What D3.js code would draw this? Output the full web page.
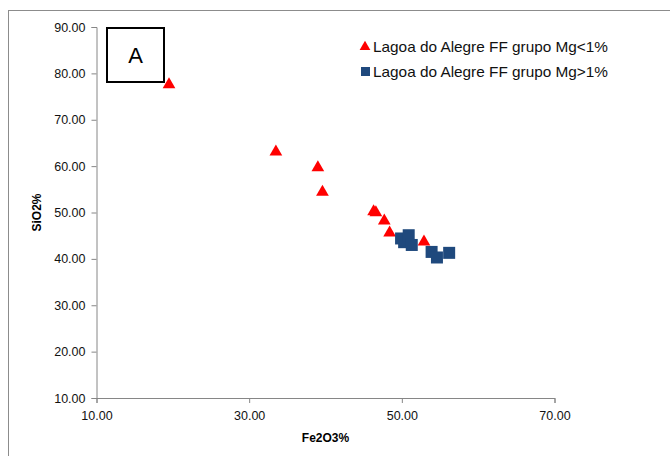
<!DOCTYPE html>
<html><head><meta charset="utf-8">
<script src="https://cdn.jsdelivr.net/npm/d3@7"></script>
<style>body{margin:0;background:#fff}svg{display:block}</style>
</head><body>
<script>
const seriesNames = ["Lagoa do Alegre FF grupo Mg<1%", "Lagoa do Alegre FF grupo Mg>1%"];
const lowMgFe = [19.5, 33.5, 39.0, 39.6, 46.3, 46.6, 47.7, 48.4, 52.9];
const lowMgSi = [77.6, 63.1, 59.7, 54.4, 50.2, 50.0, 48.2, 45.6, 43.7];
const highMgFe = [49.9, 50.3, 50.9, 51.3, 53.9, 54.6, 56.2];
const highMgSi = [44.4, 43.6, 45.1, 43.0, 41.5, 40.3, 41.3];
const xTicks = [10, 30, 50, 70];
const yTicks = [10, 20, 30, 40, 50, 60, 70, 80, 90];

const W = 670, H = 456;
const svg = d3.select("body").append("svg").attr("width", W).attr("height", H);
svg.append("rect").attr("x", 8.5).attr("y", 10.5).attr("width", 700).attr("height", 500)
  .attr("fill", "none").attr("stroke", "#8c8c8c").attr("stroke-width", 1);

const x = d3.scaleLinear().domain([10, 70]).range([96.5, 554.5]);
const y = d3.scaleLinear().domain([10, 90]).range([398, 27]);
const font = "Liberation Sans, Arial, sans-serif";

const xAxis = svg.append("g").attr("transform", `translate(0,${y(10)})`)
  .call(d3.axisBottom(x).tickValues(xTicks).tickFormat(d3.format(".2f")).tickSizeOuter(0).tickSize(5));
const yAxis = svg.append("g").attr("transform", `translate(${x(10)},0)`)
  .call(d3.axisLeft(y).tickValues(yTicks).tickFormat(d3.format(".2f")).tickSizeOuter(0).tickSize(5));
[xAxis, yAxis].forEach(g => {
  g.select(".domain").attr("stroke", "#868686");
  g.selectAll(".tick line").attr("stroke", "#868686");
  g.selectAll("text").attr("font-family", font).attr("font-size", 12.5).attr("fill", "#111");
});
xAxis.selectAll("text").attr("dy", "0.75em").attr("y", 13);
yAxis.selectAll("text").attr("x", -11);

svg.append("text").attr("x", (x(10) + x(70)) / 2).attr("y", 442).attr("text-anchor", "middle")
  .attr("font-family", font).attr("font-weight", "bold").attr("font-size", 12).text("Fe2O3%");
svg.append("text").attr("transform", `translate(41,${(y(10) + y(90)) / 2}) rotate(-90)`)
  .attr("text-anchor", "middle").attr("font-family", font).attr("font-weight", "bold")
  .attr("font-size", 12).text("SiO2%");

// label box
svg.append("rect").attr("x", 107).attr("y", 28).attr("width", 57).attr("height", 54)
  .attr("fill", "#fff").attr("stroke", "#000").attr("stroke-width", 2);
svg.append("text").attr("x", 135.5).attr("y", 63).attr("text-anchor", "middle")
  .attr("font-family", font).attr("font-size", 22).text("A");

const tri = d3.symbol().type(d3.symbolTriangle).size(70);
const lowData = lowMgFe.map((v, i) => [v, lowMgSi[i]]);
const highData = highMgFe.map((v, i) => [v, highMgSi[i]]);
svg.append("g").selectAll("path").data(lowData).join("path")
  .attr("d", tri).attr("fill", "#ff0000")
  .attr("transform", d => `translate(${x(d[0])},${y(d[1])})`);
svg.append("g").selectAll("rect").data(highData).join("rect")
  .attr("x", d => x(d[0]) - 6).attr("y", d => y(d[1]) - 6).attr("width", 12).attr("height", 12)
  .attr("fill", "#1f497d");

// legend
const lg = svg.append("g");
lg.append("path").attr("d", d3.symbol().type(d3.symbolTriangle).size(50)).attr("fill", "#ff0000")
  .attr("transform", "translate(365,47)");
lg.append("rect").attr("x", 361).attr("y", 67).attr("width", 9).attr("height", 9).attr("fill", "#1f497d");
seriesNames.forEach((s, i) => {
  lg.append("text").attr("x", 373).attr("y", 52 + i * 24.5).attr("font-family", font)
    .attr("font-size", 14.5).attr("textLength", 235).attr("lengthAdjust", "spacingAndGlyphs")
    .attr("fill", "#111").text(s);
});
</script>
</body></html>
